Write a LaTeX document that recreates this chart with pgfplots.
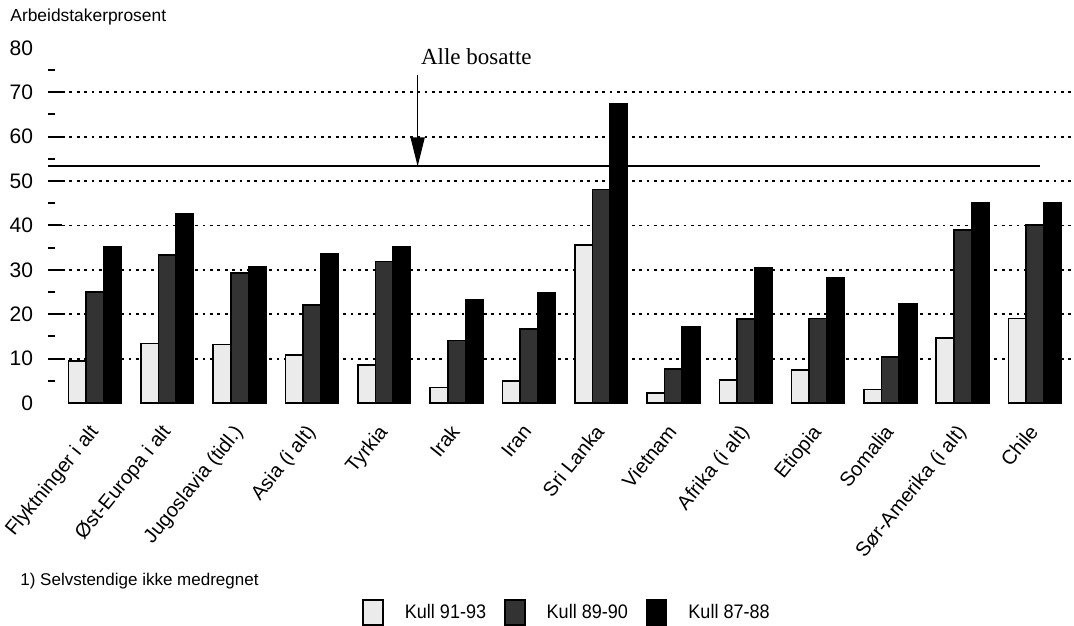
\documentclass[border=0pt]{standalone}
\usepackage{fontspec}
\setmainfont{Liberation Sans}
\newfontfamily\timesfont{Liberation Serif}
\newfontfamily\narrowfont[FakeStretch=0.92]{Liberation Sans}
\usepackage{pgfplots}
\usepackage{pgfplotstable}
\pgfplotsset{compat=1.18}
\usetikzlibrary{arrows.meta}

% Arbeidstakerprosent etter kull og landbakgrunn
\pgfplotstableread{
idx light dark black
0  9.5  25.0 35.2
1  13.4 33.4 42.7
2  13.2 29.3 30.7
3  10.8 22.1 33.5
4  8.5  31.9 35.2
5  3.5  14.1 23.3
6  5.0  16.6 24.9
7  35.6 48.1 67.4
8  2.3  7.6  17.1
9  5.2  18.9 30.4
10 7.4  19.0 28.3
11 3.0  10.4 22.4
12 14.6 38.9 45.0
13 19.0 40.1 45.0
}\kull

\begin{document}
\begin{tikzpicture}
\useasboundingbox (-31bp,-111.5bp) rectangle (506bp,201.5bp);
\begin{axis}[
    scale only axis,
    width=506bp, height=177.6bp,
    xmin=-0.456, xmax=13.54,
    ymin=0, ymax=80,
    ybar=0pt, bar width=8.8bp,
    axis lines*=left,
    axis line style={draw=none},
    clip=false,
    xtick=data,
    xticklabels={Flyktninger i alt, Øst-Europa i alt, Jugoslavia (tidl.), Asia (i alt), Tyrkia, Irak, Iran, Sri Lanka, Vietnam, Afrika (i alt), Etiopia, Somalia, Sør-Amerika (i alt), Chile},
    xtick style={draw=none},
    xticklabel style={rotate=51, anchor=north east, inner sep=0pt, xshift=-4.5bp, yshift=1bp,
        font=\fontsize{10bp}{12bp}\selectfont},
    ytick={10,20,...,70},
    minor ytick={5,15,...,75},
    extra y ticks={0,80},
    extra y tick style={grid=none, major tick style={draw=none}},
    tick align=outside,
    major tick length=7bp, minor tick length=3.5bp,
    tick style={line width=1bp, black},
    minor tick style={xshift=-3.5bp},
    yticklabel style={font=\fontsize{10.5bp}{12bp}\selectfont, xshift=-4bp},
    /pgf/number format/assume math mode=true,
    ymajorgrids,
    major grid style={dash pattern=on 1.4bp off 2.3bp, line width=0.9bp, black},
    legend image code/.code={\draw[#1, line width=0.8bp] (0bp,-6.25bp) rectangle (10bp,6.25bp);},
    legend columns=3,
    legend style={draw=none, fill=none, at={(0.5,-0.59)}, anchor=center,
        font=\narrowfont\fontsize{9.8bp}{11bp}\selectfont,
        /tikz/every odd column/.append style={column sep=8.5bp},
        /tikz/every even column/.append style={column sep=7bp}},
]
\addplot[draw=black, line width=0.8bp, fill=black!8] table[x=idx, y=light] {\kull};
\addplot[draw=black, line width=0.8bp, fill=black!80] table[x=idx, y=dark] {\kull};
\addplot[draw=black, line width=0.8bp, fill=black] table[x=idx, y=black] {\kull};
\legend{Kull 91-93, Kull 89-90, Kull 87-88}
\draw[line width=1bp] (axis cs:-0.65,53.3) -- (axis cs:13.07,53.3);
\draw[line width=0.8bp, -{Triangle[length=14.5bp, width=7bp]}] (axis cs:4.463,73.9) -- (axis cs:4.463,53.3);
\end{axis}
\node[anchor=base west, inner sep=0pt, font=\timesfont\fontsize{11.5bp}{13bp}\selectfont] at (179.35bp,169bp) {Alle bosatte};
\node[anchor=base west, inner sep=0pt, font=\fontsize{8.7bp}{10bp}\selectfont] at (-26bp,190.5bp) {Arbeidstakerprosent};
\node[anchor=base west, inner sep=0pt, font=\fontsize{8.5bp}{10bp}\selectfont] at (-21bp,-91bp) {1) Selvstendige ikke medregnet};
\end{tikzpicture}
\end{document}
